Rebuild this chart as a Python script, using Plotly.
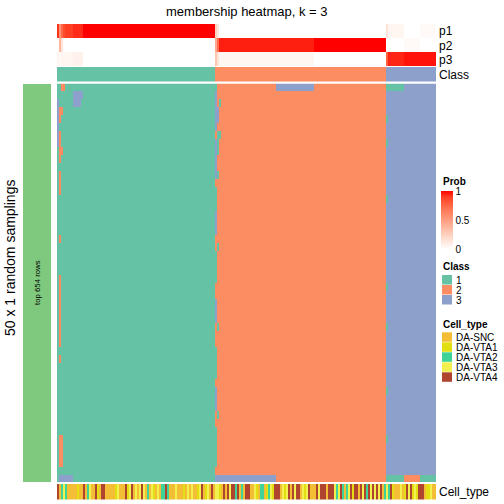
import numpy as np
import plotly.graph_objects as go

# ---------------- data ----------------
N_ROWS = 50
CLASS_SIZES = [79, 85, 25]           # columns per consensus class
CLASS_NAMES = ["1", "2", "3"]
CLASS_COLORS = ["#66C2A5", "#FC8D62", "#8DA0CB"]

# membership probabilities per column
P1 = ([0.92, 0.55, 0.75, 0.85] + [0.9] * 4 + [0.93] * 5 + [1.0] * 66 +
      [0.25, 0.12] + [0.0] * 83 +
      [0.15] + [0.05] * 8 + [0.0] * 8 + [0.03] * 8)
P2 = ([0.0, 0.38, 0.15] + [0.0] * 76 +
      [0.45, 0.72] + [0.95] * 47 + [1.0] * 36 +
      [0.0] * 9 + [0.03] * 8 + [0.0] * 8)
P3 = ([0.06, 0.03] + [0.05] * 6 + [0.07] * 5 + [0.0] * 66 +
      [0.3, 0.15] + [0.05] * 47 + [0.0] * 36 +
      [0.78] + [0.94] * 8 + [0.97] * 16)
PROB_LABELS = ["p1", "p2", "p3"]

CELL_TYPES = ["DA-SNC", "DA-VTA1", "DA-VTA2", "DA-VTA3", "DA-VTA4"]
CELL_COLORS = ["#F3BD35", "#E3DE12", "#3FD39A", "#F2F04E", "#B0452F"]
# S = DA-SNC, 1..4 = DA-VTA1..4, one char per column
CELL_TYPE_SEQ = (
    "4S232SSSSS" "1SS4S23SS4" "1S44SSSSS1" "3SSS4134S3" "S343S2S31S" "3S2242SSS3" "SSS1"
    "S3S3SS134S" "13S4S331S4" "S434424S2S" "44SS31S22S" "1231444S31" "34S4344S31" "34SS"
    "S43444S444" "32342S2341" "44S4342434" "3434S23241" "SSS3S14341" "31444S113S" "S"
)

# sampled class assignments that differ from the consensus class
# (row_from, row_to, col_from, col_to, class)
DEVIATIONS = [
    (0, 0, 2, 3, 2), (1, 1, 8, 12, 3), (2, 2, 8, 11, 3), (2, 7, 0, 0, 3),
    (3, 3, 1, 2, 2), (4, 4, 1, 1, 2), (6, 7, 1, 1, 2), (8, 8, 1, 2, 2),
    (9, 9, 1, 1, 2), (11, 13, 1, 1, 2), (19, 19, 1, 1, 2), (24, 32, 1, 1, 2),
    (34, 34, 1, 1, 2), (44, 47, 1, 2, 2), (49, 49, 1, 7, 3),
    (0, 0, 79, 79, 1), (1, 5, 79, 79, 3), (3, 4, 80, 80, 3), (7, 11, 79, 79, 3),
    (2, 2, 81, 81, 1), (6, 6, 80, 81, 1), (7, 8, 80, 80, 1), (11, 11, 80, 80, 1),
    (13, 15, 79, 79, 1), (16, 18, 79, 79, 3), (20, 20, 80, 80, 1), (21, 24, 79, 79, 1),
    (27, 29, 79, 79, 3), (30, 30, 80, 80, 1), (33, 36, 79, 79, 1), (38, 40, 79, 79, 3),
    (41, 41, 80, 80, 1), (43, 47, 79, 79, 1), (49, 49, 79, 108, 3), (0, 0, 109, 127, 3),
    (0, 0, 164, 172, 1), (4, 4, 164, 164, 1), (7, 7, 164, 164, 1), (14, 14, 164, 164, 1),
    (25, 25, 164, 164, 1), (30, 30, 164, 164, 1), (38, 38, 164, 164, 1), (44, 44, 164, 164, 1),
    (49, 49, 164, 172, 1), (49, 49, 173, 180, 2), (49, 49, 181, 188, 1),
]

TITLE = "membership heatmap, k = 3"
ROW_TITLE = "50 x 1 random samplings"
ROW_SLICE_LABEL = "top 654 rows"

# ---------------- build matrices ----------------
cls = np.concatenate([np.full(n, i + 1) for i, n in enumerate(CLASS_SIZES)])
ncol = len(cls)
main = np.tile(cls, (N_ROWS, 1)).astype(float)
for r0, r1, c0, c1, k in DEVIATIONS:
    main[r0:r1 + 1, c0:c1 + 1] = k
code_map = {"S": 0, "1": 1, "2": 2, "3": 3, "4": 4}
cell_codes = [code_map[ch] for ch in CELL_TYPE_SEQ]
prob = np.array([P1, P2, P3])

# ---------------- white -> red colour ramp in LAB ----------------
def _lin(c):
    c = c / 255
    return c / 12.92 if c <= 0.04045 else ((c + 0.055) / 1.055) ** 2.4

def _delin(c):
    v = 12.92 * c if c <= 0.0031308 else 1.055 * c ** (1 / 2.4) - 0.055
    return int(max(0, min(255, round(v * 255))))

WN = (0.95047, 1.0, 1.08883)

def _f(t):
    return t ** (1 / 3) if t > (6 / 29) ** 3 else t / (3 * (6 / 29) ** 2) + 4 / 29

def _finv(t):
    return t ** 3 if t > 6 / 29 else 3 * (6 / 29) ** 2 * (t - 4 / 29)

def to_lab(rgb):
    r, g, b = [_lin(v) for v in rgb]
    X = 0.4124564 * r + 0.3575761 * g + 0.1804375 * b
    Y = 0.2126729 * r + 0.7151522 * g + 0.0721750 * b
    Z = 0.0193339 * r + 0.1191920 * g + 0.9503041 * b
    fx, fy, fz = _f(X / WN[0]), _f(Y / WN[1]), _f(Z / WN[2])
    return 116 * fy - 16, 500 * (fx - fy), 200 * (fy - fz)

def from_lab(L, a, b):
    fy = (L + 16) / 116
    fx, fz = fy + a / 500, fy - b / 200
    X, Y, Z = WN[0] * _finv(fx), WN[1] * _finv(fy), WN[2] * _finv(fz)
    r = 3.2404542 * X - 1.5371385 * Y - 0.4985314 * Z
    g = -0.9692660 * X + 1.8760108 * Y + 0.0415560 * Z
    bb = 0.0556434 * X - 0.2040259 * Y + 1.0572252 * Z
    return "rgb(%d,%d,%d)" % (_delin(r), _delin(g), _delin(bb))

lw, lr = to_lab((255, 255, 255)), to_lab((255, 0, 0))
prob_scale = []
for i in range(11):
    t = i / 10
    prob_scale.append([t, from_lab(*[lw[j] + (lr[j] - lw[j]) * t for j in range(3)])])

def discrete_scale(colors):
    n = len(colors)
    out = []
    for i, c in enumerate(colors):
        out += [[i / n, c], [(i + 1) / n, c]]
    return out

# ---------------- layout helpers ----------------
W = H = 504
def X(v): return v / W
def Y(v): return 1 - v / H

FONT = "Liberation Sans, Arial, sans-serif"
xs = list(range(ncol))

fig = go.Figure()
fig.add_trace(go.Heatmap(z=main, x=xs, y=list(range(N_ROWS)), xaxis="x", yaxis="y",
                         colorscale=discrete_scale(CLASS_COLORS), zmin=0.5, zmax=3.5,
                         showscale=False, hoverinfo="skip"))
fig.add_trace(go.Heatmap(z=prob, x=xs, y=[0, 1, 2], xaxis="x", yaxis="y2",
                         colorscale=prob_scale, zmin=0, zmax=1, hoverinfo="skip",
                         colorbar=dict(x=X(441), xanchor="left", y=Y(220), yanchor="middle",
                                       len=58 / H, lenmode="fraction", thickness=12,
                                       thicknessmode="pixels", outlinewidth=0, xpad=0, ypad=0,
                                       tickvals=[0, 0.5, 1], ticktext=["0", "0.5", "1"],
                                       ticks="", tickfont=dict(size=10, family=FONT, color="black"))))
fig.add_trace(go.Heatmap(z=[cls], x=xs, y=[0], xaxis="x", yaxis="y3",
                         colorscale=discrete_scale(CLASS_COLORS), zmin=0.5, zmax=3.5,
                         showscale=False, hoverinfo="skip"))
fig.add_trace(go.Heatmap(z=[cell_codes], x=xs, y=[0], xaxis="x", yaxis="y4",
                         colorscale=discrete_scale(CELL_COLORS), zmin=-0.5, zmax=4.5,
                         showscale=False, hoverinfo="skip"))

hidden = dict(showgrid=False, zeroline=False, showticklabels=False, ticks="", showline=False)
fig.update_layout(
    width=W, height=H, margin=dict(l=0, r=0, t=0, b=0, autoexpand=False),
    paper_bgcolor="white", plot_bgcolor="white", showlegend=False,
    font=dict(family=FONT, color="black"),
    xaxis=dict(domain=[X(57), X(436)], range=[-0.5, ncol - 0.5], anchor="y", **hidden),
    yaxis=dict(domain=[Y(482), Y(83.5)], range=[N_ROWS - 0.5, -0.5], anchor="x", **hidden),
    yaxis2=dict(domain=[Y(66), Y(24)], range=[2.5, -0.5], anchor="x", **hidden),
    yaxis3=dict(domain=[Y(81.5), Y(67)], range=[0.5, -0.5], anchor="x", **hidden),
    yaxis4=dict(domain=[Y(499.5), Y(484)], range=[0.5, -0.5], anchor="x", **hidden),
)

shapes = []
# row slice bar on the left
shapes.append(dict(type="rect", xref="paper", yref="paper", x0=X(23), x1=X(51),
                   y0=Y(482), y1=Y(84), fillcolor="#7FC97F", line=dict(width=0)))
# legend boxes
for i, c in enumerate(CLASS_COLORS):
    top = 275 + 10 * i
    shapes.append(dict(type="rect", xref="paper", yref="paper", x0=X(442), x1=X(452),
                       y0=Y(top + 9.5), y1=Y(top), fillcolor=c, line=dict(width=0)))
for i, c in enumerate(CELL_COLORS):
    top = 332.3 + 10 * i
    shapes.append(dict(type="rect", xref="paper", yref="paper", x0=X(442), x1=X(452),
                       y0=Y(top + 9.5), y1=Y(top), fillcolor=c, line=dict(width=0)))
fig.update_layout(shapes=shapes)

ann = []
def text(s, x, y, size, xanchor="left", angle=0, bold=False):
    ann.append(dict(text=("<b>%s</b>" % s) if bold else s, x=X(x), y=Y(y), xref="paper",
                    yref="paper", showarrow=False, xanchor=xanchor, yanchor="middle",
                    textangle=angle, font=dict(size=size, family=FONT, color="black")))

text(TITLE, 246.5, 11.5, 13, xanchor="center")
for lab, yy in zip(PROB_LABELS, [31, 45.5, 59.5]):
    text(lab, 437, yy, 12)
text("Class", 437, 74.5, 12)
text("Cell_type", 437, 492, 12)
text(ROW_TITLE, 10, 258, 14, xanchor="center", angle=-90)
text(ROW_SLICE_LABEL, 37, 283, 7.8, xanchor="center", angle=-90)
text("Prob", 440.5, 181, 10, bold=True)
text("Class", 440.5, 266, 10, bold=True)
for i, n in enumerate(CLASS_NAMES):
    text(n, 454, 280 + 10 * i, 10)
text("Cell_type", 440.5, 324, 10, bold=True)
for i, n in enumerate(CELL_TYPES):
    text(n, 454, 337 + 10 * i, 10)
fig.update_layout(annotations=ann)

fig.write_html("out.html", config={"displayModeBar": False, "staticPlot": True},
               post_script="document.body.style.margin='0';document.body.style.overflow='hidden';")
